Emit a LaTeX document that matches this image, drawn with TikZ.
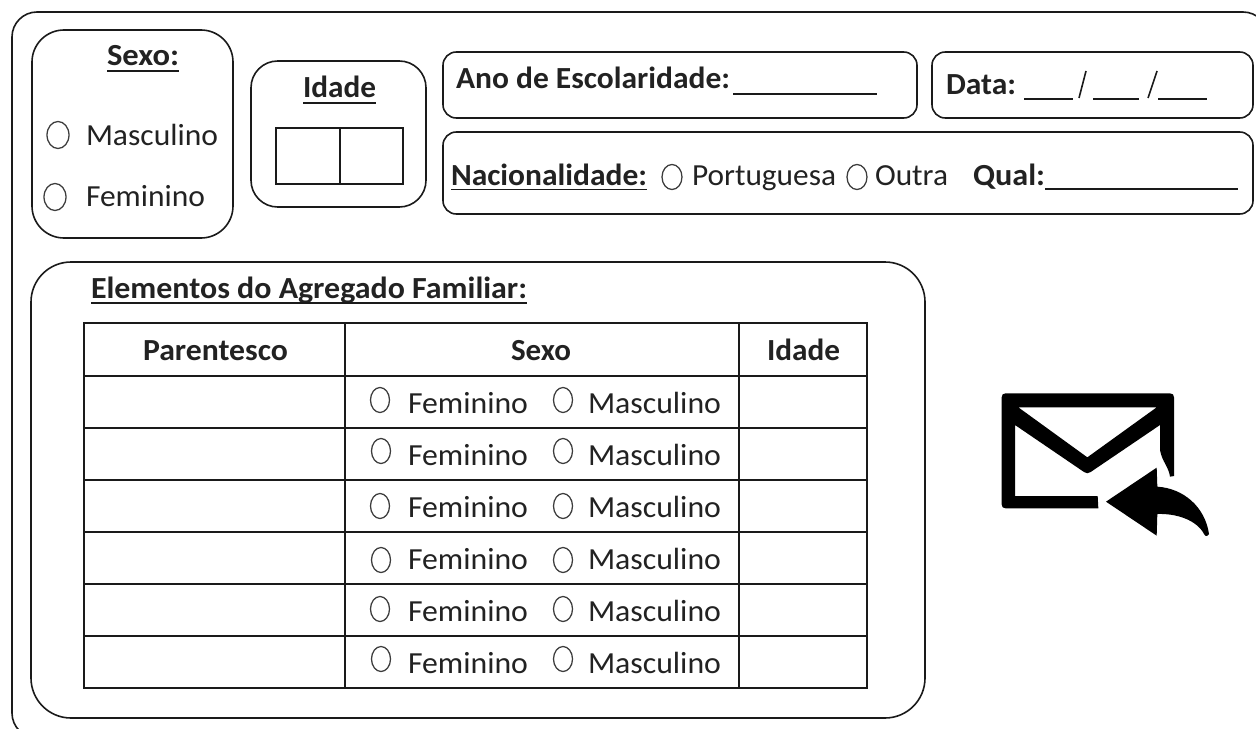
\documentclass[tikz,border=0pt]{standalone}
\usepackage{fontspec}
\setmainfont{Carlito}
\usepackage{graphicx}
\definecolor{ink}{HTML}{1A1A1A}
\definecolor{txt}{HTML}{222222}
\newlength{\pxu}\setlength{\pxu}{0.75pt}
% name, x, baseline y, width px, text
\newcommand{\tx}[5]{\node[lbl] (#1) at (#2,#3) {\resizebox{#4\pxu}{\height}{\fontsize{23}{26}\selectfont #5}};}
\newcommand{\tb}[5]{\node[lbl] (#1) at (#2,#3) {\resizebox{#4\pxu}{\height}{\fontsize{23}{26}\selectfont\bfseries #5}};}
\tikzset{
  lbl/.style={anchor=base west,inner sep=0pt,outer sep=0pt,text=txt},
  frame/.style={draw=ink,line width=1.2pt},
  thinframe/.style={draw=ink,line width=1.1pt},
  rule/.style={draw=ink,line width=1.2pt},
  radio/.style={draw=ink!85,line width=0.95pt},
}
\begin{document}
\begin{tikzpicture}[x=0.75pt,y=-0.75pt]
\useasboundingbox (0,0) rectangle (1256,728);
\clip (0,0) rectangle (1256,728);
% outer frame
\draw[frame,rounded corners=18.75pt] (12,12) rectangle (1268,738);
% Sexo box
\draw[frame,rounded corners=24pt] (32,30) rectangle (233,238);
\tb{sexo}{107}{65}{72}{Sexo:}
\draw[rule] (sexo.base west)++(0,6) -- ++(72,0);
\draw[radio] (58,135) ellipse (11 and 13.5);
\tx{m0}{86}{145}{132}{Masculino}
\draw[radio] (55,197) ellipse (11 and 13.5);
\tx{f0}{86}{206}{119}{Feminino}
% Idade box
\draw[frame,rounded corners=20pt] (251,61) rectangle (426,207);
\tb{idade}{303}{97}{73}{Idade}
\draw[rule] (idade.base west)++(0,6) -- ++(73,0);
\draw[thinframe] (276,128) rectangle (403,184);
\draw[thinframe] (340,128) -- (340,184);
% Ano box
\draw[frame,rounded corners=10pt] (443,52) rectangle (917,118);
\tb{ano}{456}{88}{274}{Ano de Escolaridade:}
\draw[rule] (733,94) -- (877,94);
% Data box
\draw[frame,rounded corners=10pt] (932,52) rectangle (1253,118);
\tb{data}{946}{94}{70}{Data:}
\draw[rule] (1024,99) -- (1073,99);
\draw[rule] (1079,98) -- (1086,71);
\draw[rule] (1093,99) -- (1139,99);
\draw[rule] (1148,98) -- (1157,71);
\draw[rule] (1158,99) -- (1207,99);
% Nacionalidade box
\draw[frame,rounded corners=10pt] (443,132) rectangle (1253,214);
\tb{nac}{451}{185}{196}{Nacionalidade:}
\draw[rule] (nac.base west)++(0,4.5) -- ++(196,0);
\draw[radio] (672,177) ellipse (10 and 12.5);
\tx{por}{692}{185}{144}{Portuguesa}
\draw[radio] (857,177) ellipse (10 and 12.5);
\tx{out}{875}{185}{73}{Outra}
\tb{qual}{973}{185}{72}{Qual:}
\draw[rule] (1045,189) -- (1238,189);
% Elementos box
\draw[frame,rounded corners=30pt] (31,262) rectangle (925,718);
\tb{elem}{91}{298}{436}{Elementos do Agregado Familiar:}
\draw[rule] (elem.base west)++(0,5) -- ++(436,0);
% table
\draw[thinframe] (84,323) rectangle (867,688);
\foreach \yy in {376,428,480,532,584,636} {\draw[thinframe] (84,\yy) -- (867,\yy);}
\foreach \xx in {345,739} {\draw[thinframe] (\xx,323) -- (\xx,688);}
\tb{hp}{143}{360}{145}{Parentesco}
\tb{hs}{511}{360}{60}{Sexo}
\tb{hi}{767}{360}{73}{Idade}
\foreach \by/\cy/\cxa/\cxb [count=\i] in {413/400/380/563,465/451/381/563,517/506/380/563,569/560/381/563,621/609/380/563,673/659/381/563} {
  \draw[radio] (\cxa,\cy) ellipse (9.5 and 12.5);
  \tx{f\i}{408}{\by}{120}{Feminino}
  \draw[radio] (\cxb,\cy) ellipse (9.5 and 12.5);
  \tx{m\i}{588}{\by}{133}{Masculino}
}
% icon
\begin{scope}[shift={(960,370)},x=0.25pt,y=-0.25pt]
\fill[black,even odd rule]
  (137,70) -- (630,70) .. controls (638,70) and (642,74) .. (642,82)
  -- (642,318) -- (630,320) .. controls (626,290) and (606,275) .. (600,240)
  -- (600,165) -- (392,306) .. controls (385,311) and (379,311) .. (372,306)
  -- (165,165) -- (165,378) -- (413,378) -- (415,415) -- (137,415)
  .. controls (129,415) and (125,411) .. (125,403) -- (125,82)
  .. controls (125,74) and (129,70) .. (137,70) -- cycle
  (175,112) -- (590,112) -- (382,262) -- cycle;
\fill[black] (438,395) -- (590,293) -- (592,350)
  .. controls (670,355) and (735,410) .. (747,492)
  .. controls (742,500) and (736,500) .. (732,492)
  .. controls (710,450) and (650,430) .. (592,432)
  -- (590,497) -- cycle;
\end{scope}
\end{tikzpicture}
\end{document}
